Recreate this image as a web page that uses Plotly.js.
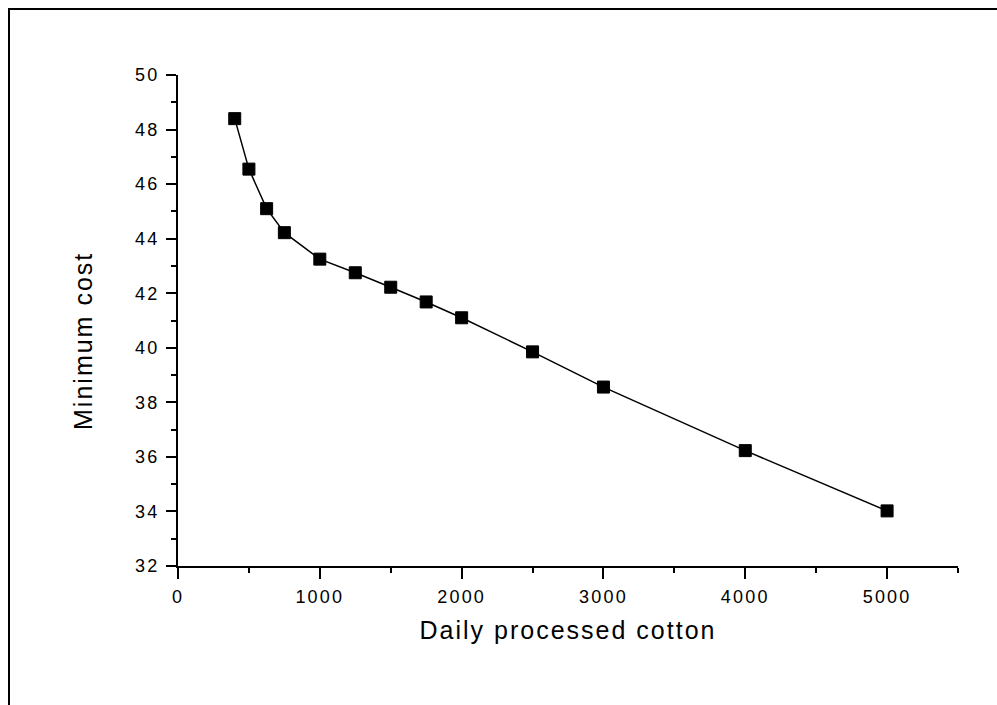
<!DOCTYPE html>
<html>
<head>
<meta charset="utf-8">
<script src="https://cdn.plot.ly/plotly-3.0.1.min.js"></script>
<style>
  html, body { margin: 0; padding: 0; background: #fff; }
  #wrap { position: relative; width: 997px; height: 705px; overflow: hidden; }
  #chart { position: absolute; left: 0; top: 0; width: 997px; height: 705px; }
  #frame { position: absolute; left: 8px; top: 8px; width: 1100px; height: 800px;
           border: 2px solid #000; pointer-events: none; box-sizing: border-box; }
  #chart .xtick text, #chart .ytick text { letter-spacing: 2.2px; }
  #chart .xtitle, #chart .annotation-text { letter-spacing: 2px; }
</style>
</head>
<body>
<div id="wrap">
  <div id="chart"></div>
  <div id="frame"></div>
</div>
<script>
const dailyCotton = [400, 500, 625, 750, 1000, 1250, 1500, 1750, 2000, 2500, 3000, 4000, 5000];
const minimumCost = [48.4, 46.55, 45.1, 44.22, 43.25, 42.75, 42.22, 41.68, 41.1, 39.85, 38.56, 36.23, 34.02];
const xTitle = "Daily processed cotton";
const yTitle = "Minimum cost";

const font = "Liberation Sans, Arial, Helvetica, sans-serif";

Plotly.newPlot("chart", [{
  type: "scatter",
  mode: "lines+markers",
  x: dailyCotton,
  y: minimumCost,
  line: { color: "#000", width: 1.5 },
  marker: { symbol: "square", size: 12, color: "#000", line: { color: "#000", width: 1 } },
  showlegend: false,
  hoverinfo: "x+y"
}], {
  width: 997, height: 705,
  margin: { l: 178, r: 39, t: 75, b: 139 },
  paper_bgcolor: "#fff", plot_bgcolor: "#fff",
  font: { family: font, color: "#000" },
  xaxis: {
    range: [0, 5500], dtick: 1000, tick0: 0,
    showgrid: false, zeroline: false,
    showline: true, linecolor: "#000", linewidth: 2,
    ticks: "outside", ticklen: 11, tickwidth: 2, tickcolor: "#000",
    minor: { dtick: 500, ticks: "outside", ticklen: 5, tickwidth: 2, tickcolor: "#000", showgrid: false },
    tickfont: { family: font, size: 18, color: "#000" },
    ticklabelstandoff: 2,
    title: { text: xTitle, font: { family: font, size: 25, color: "#000" }, standoff: 16 },
    automargin: false
  },
  yaxis: {
    range: [32, 50], dtick: 2, tick0: 32,
    showgrid: false, zeroline: false,
    showline: true, linecolor: "#000", linewidth: 2,
    ticks: "outside", ticklen: 10, tickwidth: 2, tickcolor: "#000",
    minor: { dtick: 1, ticks: "outside", ticklen: 5, tickwidth: 2, tickcolor: "#000", showgrid: false },
    tickfont: { family: font, size: 18, color: "#000" },
    ticklabelstandoff: 3,
    automargin: false
  },
  annotations: [{
    text: yTitle, textangle: -90, showarrow: false,
    xref: "paper", yref: "paper", x: -0.122, y: 0.458,
    xanchor: "center", yanchor: "middle",
    font: { family: font, size: 25, color: "#000" }
  }]
}, { displayModeBar: false, staticPlot: true });
</script>
</body>
</html>
